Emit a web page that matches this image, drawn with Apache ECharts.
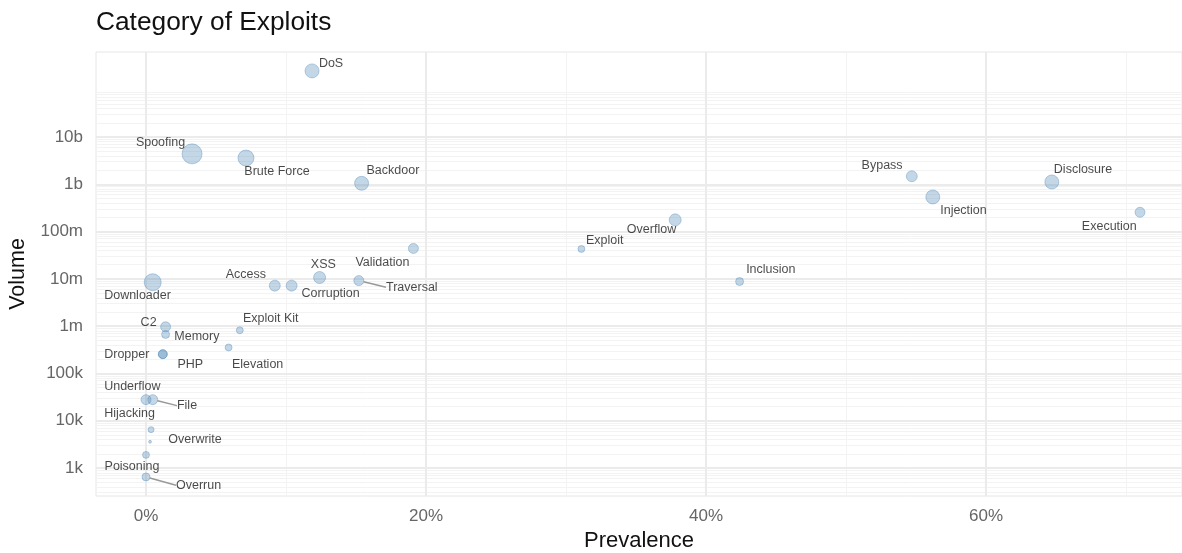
<!DOCTYPE html>
<html>
<head>
<meta charset="utf-8">
<script src="https://cdn.jsdelivr.net/npm/echarts@6/dist/echarts.min.js"></script>
<style>html,body{margin:0;padding:0;background:#fff}#c{width:1182px;height:553px}</style>
</head>
<body>
<div id="c"></div>
<script>
// ---- data ----
const names = ["DoS","Spoofing","Brute Force","Backdoor","Validation","XSS","Traversal","Access","Corruption","Downloader","C2","Memory","Exploit Kit","Elevation","Dropper","PHP","Underflow","File","Hijacking","Overwrite","Poisoning","Overrun","Exploit","Overflow","Inclusion","Bypass","Injection","Disclosure","Execution"];
const prevalence = [11.86,3.29,7.14,15.4,19.1,12.4,15.2,9.2,10.4,0.48,1.4,1.4,6.7,5.9,1.2,1.2,0.0,0.48,0.36,0.29,0.0,0.0,31.1,37.8,42.4,54.7,56.2,64.7,71.0];
const volume = [2.5e11,4.4e9,3.6e9,1.05e9,4.4e7,1.07e7,9.2e6,7.2e6,7.2e6,8.5e6,9.7e5,6.7e5,8.2e5,3.55e5,2.56e5,2.56e5,2.8e4,2.8e4,6.5e3,3.6e3,1.9e3,650,4.3e7,1.77e8,8.8e6,1.48e9,5.4e8,1.12e9,2.56e8];
const impact = [49,100,64,49,25,36,25,30,30,72,25,16,12,12,20,20,25,25,9,2,12,16,12,36,16,30,49,49,25];
const xTicks = [0,20,40,60];
const xMinor = [10,30,50,70];
const yTicks = [1e3,1e4,1e5,1e6,1e7,1e8,1e9,1e10];
const yTickLabels = ["1k","10k","100k","1m","10m","100m","1b","10b"];
const minorMult = [2,3,4,5,6,7,8,9];
const minorDecades = [1e2,1e3,1e4,1e5,1e6,1e7,1e8,1e9,1e10];
const xRange = [-3.571, 74.0];
const yRange = [257, 6.27e11];

// ---- label placement (label centre offset from point, px) ----
const labelOffset = {
  "DoS":[19,-7],"Spoofing":[-31.5,-11],"Brute Force":[31,14],"Backdoor":[31.3,-12.3],
  "Validation":[-31,14.3],"XSS":[3.7,-13.4],"Traversal":[53,6.6],"Access":[-29,-11.4],
  "Corruption":[39,7.6],"Downloader":[-15.2,13.7],"C2":[-17,-4],"Memory":[31.3,1.7],
  "Exploit Kit":[31,-11.7],"Elevation":[29,17],"Dropper":[-36,0],"PHP":[27.5,10.3],
  "Underflow":[-13.7,-13.3],"File":[34.3,6],"Hijacking":[-21.5,-15.7],"Overwrite":[45,-2.4],
  "Poisoning":[-14,12],"Overrun":[52.6,8.3],"Exploit":[23.3,-8.3],"Overflow":[-23.7,10],
  "Inclusion":[31.2,-11.7],"Bypass":[-29.7,-11],"Injection":[30.7,13.3],"Disclosure":[31.2,-12.4],
  "Execution":[-30.7,14]
};
const withLine = {"Traversal":1,"File":1,"Overrun":1};

const L = Math.log10;
const FONT = "Liberation Sans, Arial, Helvetica, sans-serif";
const majorStyle = {color:'#ebebeb', width:2, type:'solid'};
const minorStyle = {color:'#f3f3f3', width:1, type:'solid'};

const gridLines = [];
xMinor.forEach(v => gridLines.push({xAxis:v, lineStyle:minorStyle}));
minorDecades.forEach(d => minorMult.forEach(m => gridLines.push({yAxis:L(d*m), lineStyle:minorStyle})));
xTicks.forEach(v => gridLines.push({xAxis:v, lineStyle:majorStyle}));
yTicks.forEach(v => gridLines.push({yAxis:L(v), lineStyle:majorStyle}));

const points = names.map((n,i) => ({
  name:n,
  value:[prevalence[i], L(volume[i])],
  symbolSize: 2*Math.sqrt(impact[i]),
  labelLine: {show: !!withLine[n]}
}));

const yTickLogs = yTicks.map(L);

const chart = echarts.init(document.getElementById('c'), null, {renderer:'canvas'});
chart.setOption({
  animation:false,
  backgroundColor:'#fff',
  textStyle:{fontFamily:FONT},
  title:{text:'Category of Exploits', left:91, top:5,
    textStyle:{fontFamily:FONT, fontSize:26.3, fontWeight:'normal', color:'#111'}},
  grid:{left:96, top:52, right:0, bottom:57, outerBoundsMode:'none', containLabel:false,
    show:true, borderColor:'#e6e6e6', borderWidth:1, backgroundColor:'#fff'},
  xAxis:{type:'value', min:xRange[0], max:xRange[1],
    name:'Prevalence', nameLocation:'middle', nameGap:34,
    nameTextStyle:{fontFamily:FONT, fontSize:22, color:'#111'},
    axisLine:{show:false}, axisTick:{show:false}, splitLine:{show:false},
    axisLabel:{customValues:xTicks, formatter:'{value}%', fontFamily:FONT, fontSize:17, color:'#666', margin:12}},
  yAxis:{type:'value', min:L(yRange[0]), max:L(yRange[1]),
    name:'Volume', nameLocation:'middle', nameGap:66, nameRotate:90,
    nameTextStyle:{fontFamily:FONT, fontSize:21.5, color:'#111'},
    axisLine:{show:false}, axisTick:{show:false}, splitLine:{show:false},
    axisLabel:{customValues:yTickLogs, fontFamily:FONT, fontSize:17, color:'#666', margin:13,
      formatter:(v)=>{const i=yTickLogs.findIndex(t=>Math.abs(t-v)<1e-6);return i>=0?yTickLabels[i]:'';}}},
  series:[
    {type:'scatter', data:[], zlevel:0, z:1, silent:true,
     markLine:{silent:true, symbol:['none','none'], label:{show:false}, animation:false, data:gridLines}},
    {type:'scatter', zlevel:1, z:3, data:points,
     itemStyle:{color:'rgba(70,130,180,0.4)', borderColor:'rgba(70,130,180,0.45)', borderWidth:1},
     label:{show:true, position:'inside', formatter:'{b}', fontFamily:FONT, fontSize:12.5, color:'#1a1a1a'},
     labelLine:{show:false, lineStyle:{color:'#999', width:1.5}},
     labelLayout:(p)=>{const o=labelOffset[names[p.dataIndex]]||[0,0];return {dx:o[0], dy:o[1], hideOverlap:false};}
    }
  ]
});
</script>
</body>
</html>
